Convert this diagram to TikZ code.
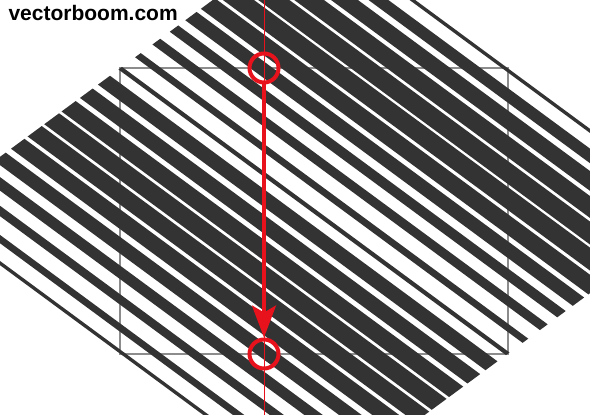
\documentclass[tikz,border=0pt]{standalone}
\usepackage{fontspec}
\setmainfont{Liberation Sans}
\usepackage{xcolor}
\definecolor{stripecol}{RGB}{51,51,51}
\definecolor{markred}{RGB}{232,18,28}
\definecolor{framegray}{RGB}{140,140,140}
\usepackage{tikz}
\usetikzlibrary{arrows.meta}

\begin{document}
\begin{tikzpicture}[x=1pt,y=1pt,
  ring/.style={circle,draw=markred,line width=4pt,minimum size=29pt,inner sep=0pt},
  guide/.style={markred,line width=1pt},
  mover/.style={markred,line width=3.5pt,-{Stealth[length=32pt,width=24pt,inset=7pt]}},
  frame/.style={framegray,line width=1.2pt}]
  \useasboundingbox (0,0) rectangle (590,415);
  \clip (0,0) rectangle (590,415);
  % The frame:
  \draw[frame] (120,61) rectangle (508,347);
  % The stripes (centre across the band / width):
  \begin{scope}[shift={(314,204)},yscale=0.737,rotate=-45]
    \foreach \c/\w in {-272/4,-248/14,-224/19,-199/21,-174/22,-149/22,-124/20,
                       -100/16,-76/12,-51/11,-25/8,0/5,23/17,48/18,73/20,97/21,
                       121/20,145/19,170/16,196/13,222/10,249/8,272/4} {
      \fill[stripecol] (-274,{-(\c)-\w/2}) rectangle (274,{-(\c)+\w/2});
    }
  \end{scope}
  % The guide and the markers:
  \coordinate (gtop) at (264,415);
  \coordinate (gbot) at (264,0);
  \draw[guide] (gtop) -- (gbot);
  \node[ring] (start) at (264,347) {};
  \node[ring] (end) at (264,61) {};
  \draw[mover] (start) -- (end);
  \node[anchor=base west,font=\bfseries\fontsize{21}{24}\selectfont] (site) at (5,394) {vectorboom.com};
\end{tikzpicture}
\end{document}
